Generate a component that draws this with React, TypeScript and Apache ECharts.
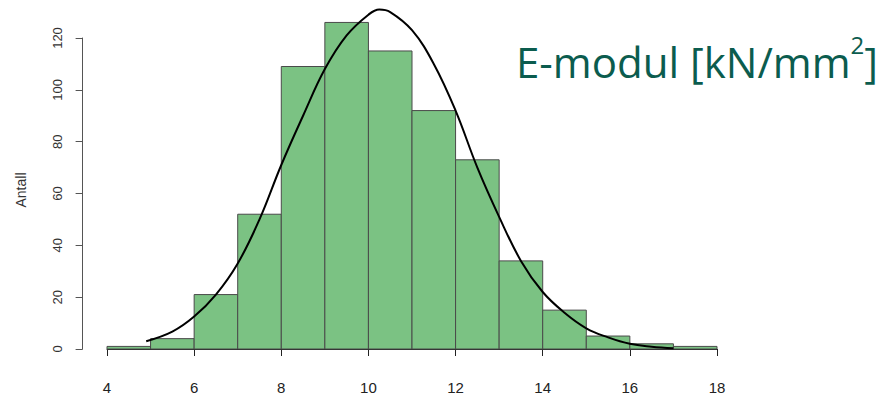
import React, { useEffect, useRef } from 'react';
import * as echarts from 'echarts';

// Histogram bins (left edges), all one unit wide, and their counts
const binStarts = [4, 5, 6, 7, 8, 9, 10, 11, 12, 13, 14, 15, 16, 17];
const binWidth = 1;
const binCounts = [1, 4, 21, 52, 109, 126, 115, 92, 73, 34, 15, 5, 2, 1];

// Fitted density curve, scaled to counts
const curveX = [4.9, 5.5, 6, 6.5, 7, 7.5, 8, 8.5, 9, 9.5, 10, 10.25, 10.5, 11, 11.5, 12, 12.5, 13, 13.5, 14, 14.5, 15, 15.5, 16, 16.5, 17];
const curveY = [3, 6.7, 12.5, 21, 33, 50, 71, 90, 108, 121, 129, 131, 130, 123, 110, 92, 70, 51, 34, 22, 14, 8, 4.5, 2, 0.9, 0.3];

// Axis ranges and tick steps
const xRange = [4, 18];
const xStep = 2;
const yRange = [0, 120];
const yStep = 20;

const yAxisTitle = 'Antall';
const chartTitle = '{a|E-modul [kN/mm}{s|2}{a|]}';

const barFill = '#7bc283';
const barEdge = '#4a4a4a';
const axisColor = '#555555';
const titleColor = '#0b5c4e';

export default function App() {
  const ref = useRef<HTMLDivElement>(null);

  useEffect(() => {
    document.body.style.margin = '0';
    const chart = echarts.init(ref.current!, null, { renderer: 'svg' });

    const bins = binStarts.map((s, i) => [s, s + binWidth, binCounts[i]]);
    const curve = curveX.map((x, i) => [x, curveY[i]]);

    chart.setOption({
      animation: false,
      backgroundColor: '#ffffff',
      grid: { left: 107, right: 169, top: 38, bottom: 52 },
      xAxis: {
        type: 'value',
        min: xRange[0],
        max: xRange[1],
        interval: xStep,
        offset: 14,
        axisLine: { show: true, lineStyle: { color: '#222', width: 1 } },
        axisTick: { show: true, length: 7, lineStyle: { color: '#222' } },
        axisLabel: { color: '#222', fontSize: 15, fontFamily: 'Liberation Sans', margin: 17 },
        splitLine: { show: false },
      },
      yAxis: {
        type: 'value',
        min: yRange[0],
        max: yRange[1],
        interval: yStep,
        offset: 24.4,
        axisLine: { show: true, lineStyle: { color: axisColor, width: 1 } },
        axisTick: { show: true, length: 7, lineStyle: { color: axisColor } },
        axisLabel: { color: '#333', fontSize: 13, fontFamily: 'Liberation Sans', rotate: 90, margin: 19 },
        splitLine: { show: false },
      },
      graphic: [
        {
          type: 'text',
          x: 21,
          y: 190,
          rotation: Math.PI / 2,
          style: {
            text: yAxisTitle,
            fill: '#333',
            font: '14px "Liberation Sans"',
            align: 'center',
            verticalAlign: 'middle',
          },
        },
        {
          type: 'text',
          x: 516,
          y: 32,
          style: {
            text: chartTitle,
            fill: titleColor,
            rich: {
              a: { fontFamily: 'Open Sans', fontSize: 42, lineHeight: 50, fill: titleColor, verticalAlign: 'bottom' },
              s: { fontFamily: 'Open Sans', fontSize: 24, lineHeight: 44, fill: titleColor, verticalAlign: 'top' },
            },
          },
        },
      ],
      series: [
        {
          type: 'custom',
          data: bins,
          clip: false,
          renderItem: (params: any, api: any) => {
            const p0 = api.coord([api.value(0), 0]);
            const p1 = api.coord([api.value(1), api.value(2)]);
            return {
              type: 'rect',
              shape: { x: p0[0], y: p1[1], width: p1[0] - p0[0], height: p0[1] - p1[1] },
              style: { fill: barFill, stroke: barEdge, lineWidth: 1 },
            };
          },
        },
        {
          type: 'line',
          data: curve,
          smooth: 0.4,
          showSymbol: false,
          clip: false,
          z: 5,
          lineStyle: { color: '#000', width: 2 },
        },
      ],
    });

    return () => chart.dispose();
  }, []);

  return <div ref={ref} style={{ width: 886, height: 401 }} />;
}
